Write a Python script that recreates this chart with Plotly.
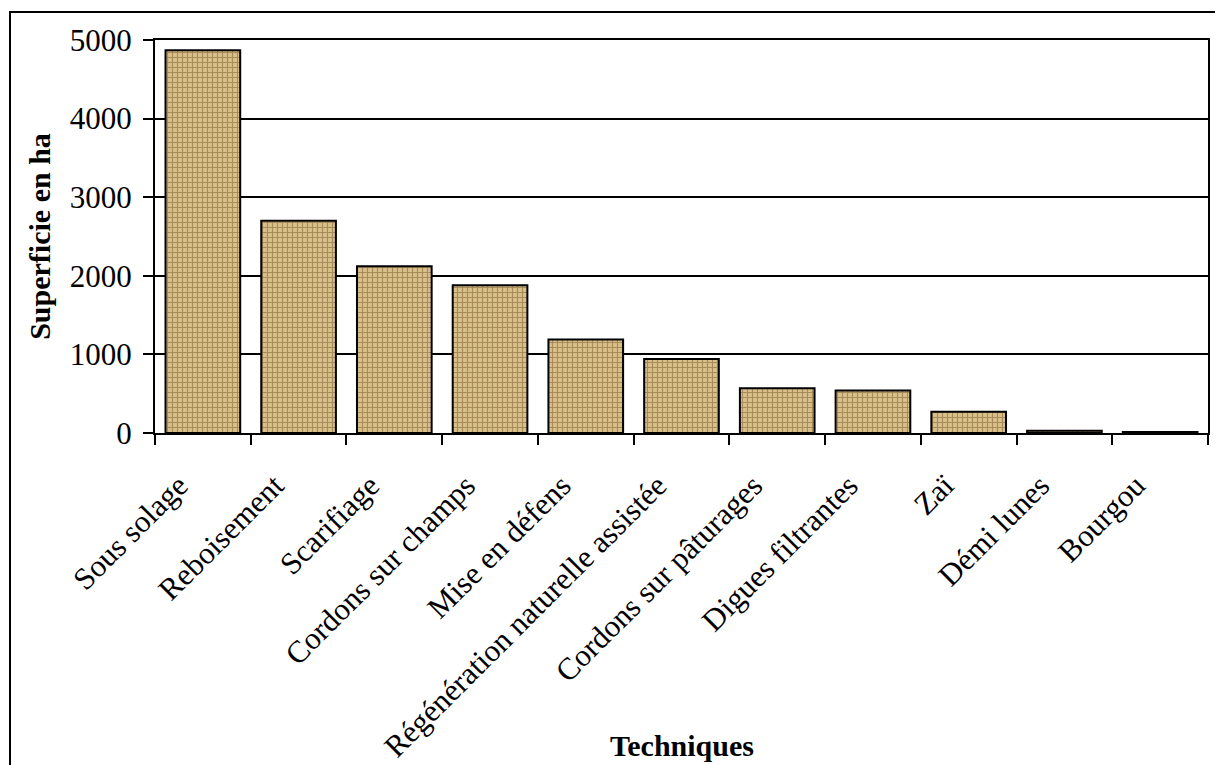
import plotly.graph_objects as go

categories = ["Sous solage", "Reboisement", "Scarifiage", "Cordons sur champs",
              "Mise en défens", "Régénération naturelle assistée",
              "Cordons sur pâturages", "Digues filtrantes", "Zaï",
              "Démi lunes", "Bourgou"]
superficie = [4870, 2700, 2120, 1880, 1190, 940, 570, 540, 270, 30, 12]
y_ticks = [0, 1000, 2000, 3000, 4000, 5000]

FONT = "Liberation Serif, Times New Roman, serif"

# page has an 8px body margin; figure sized to fill the remaining window
W, H = 1215, 757
L, R, T, B = 147, 15, 32, 332
plot_w = W - L - R
plot_h = H - T - B

fig = go.Figure()
fig.add_trace(go.Bar(
    x=categories, y=superficie,
    marker=dict(
        color="#cdb078",
        line=dict(color="black", width=2),
        pattern=dict(shape="+", fgcolor="#76582b", bgcolor="#d9bf88",
                     size=5, solidity=0.4, fillmode="overlay"),
    ),
))

fig.update_layout(
    width=W, height=H,
    margin=dict(l=L, r=R, t=T, b=B),
    paper_bgcolor="white", plot_bgcolor="white",
    bargap=0.22,
    showlegend=False,
    font=dict(family=FONT, color="black"),
    shapes=[dict(type="rect", xref="paper", yref="paper",
                 x0=(2 - L) / plot_w, x1=1.1, y0=-1.3, y1=1 + (T - 4) / plot_h,
                 line=dict(color="black", width=2), fillcolor="rgba(0,0,0,0)",
                 layer="below")],
    annotations=[dict(text="<b>Techniques</b>", xref="paper", yref="paper",
                      x=0.5, y=(plot_h + T - 737) / plot_h,
                      xanchor="center", yanchor="middle", showarrow=False,
                      font=dict(size=30, family=FONT, color="black"))],
)
fig.update_xaxes(
    tickangle=-45, tickfont=dict(size=31, family=FONT),
    ticks="outside", ticklen=10, tickwidth=2, tickcolor="black",
    tickson="boundaries",
    ticklabelshift=-24, ticklabelstandoff=20,
    showline=True, linewidth=2, linecolor="black", mirror=True,
    automargin=False,
)
fig.update_yaxes(
    range=[0, 5000], tickvals=y_ticks,
    tickfont=dict(size=31, family=FONT),
    ticks="outside", ticklen=10, tickwidth=2, tickcolor="black",
    ticklabelstandoff=5,
    showgrid=True, gridcolor="black", gridwidth=2,
    showline=True, linewidth=2, linecolor="black", mirror=True,
    zeroline=False, automargin=False,
    title=dict(text="<b>Superficie en ha</b>", font=dict(size=30, family=FONT), standoff=10),
)

fig.write_html("out.html")
